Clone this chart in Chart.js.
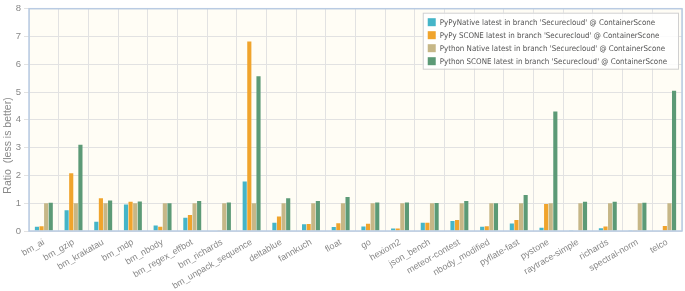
<!DOCTYPE html>
<html>
<head>
<meta charset="utf-8">
<script src="https://cdn.jsdelivr.net/npm/chart.js@4.4.1/dist/chart.umd.min.js"></script>
<style>
  html, body { margin: 0; padding: 0; background: #ffffff; }
  #wrap { width: 685px; height: 291px; }
</style>
</head>
<body>
<div id="wrap"><canvas id="canvas1" width="685" height="291"></canvas></div>
<script>
// benchmark names
const Benchmarks = ['bm_ai', 'bm_gzip', 'bm_krakatau', 'bm_mdp', 'bm_nbody', 'bm_regex_effbot',
    'bm_richards', 'bm_unpack_sequence', 'deltablue', 'fannkuch', 'float', 'go', 'hexiom2',
    'json_bench', 'meteor-contest', 'nbody_modified', 'pyflate-fast', 'pystone',
    'raytrace-simple', 'richards', 'spectral-norm', 'telco'];

const PyPyNative = [0.15, 0.75, 0.33, 0.95, 0.20, 0.48, 0.02, 1.78, 0.30, 0.24, 0.14, 0.16,
    0.09, 0.30, 0.36, 0.15, 0.27, 0.12, 0.01, 0.10, 0.01, 0.02];
const PyPyScone = [0.17, 2.08, 1.18, 1.05, 0.15, 0.58, 0.01, 6.82, 0.52, 0.25, 0.28, 0.26,
    0.09, 0.30, 0.40, 0.17, 0.40, 0.97, 0.02, 0.16, 0.03, 0.18];
const PythonNative = [1, 1, 1, 1, 1, 1, 1, 1, 1, 1, 1, 1, 1, 1, 1, 1, 1, 1, 1, 1, 1, 1];
const PythonScone = [1.02, 3.10, 1.10, 1.06, 1.00, 1.08, 1.03, 5.57, 1.18, 1.08, 1.22, 1.03,
    1.03, 1.01, 1.08, 1.00, 1.30, 4.30, 1.05, 1.05, 1.02, 5.05];

const SeriesNames = [
    "PyPyNative latest in branch 'Securecloud' @ ContainerScone",
    "PyPy SCONE latest in branch 'Securecloud' @ ContainerScone",
    "Python Native latest in branch 'Securecloud' @ ContainerScone",
    "Python SCONE latest in branch 'Securecloud' @ ContainerScone"
];
const SeriesColors = ['#45b5c8', '#f0a42c', '#c6b787', '#5c9a76'];

const YTicks = [0, 1, 2, 3, 4, 5, 6, 7, 8];
const YTitle = 'Ratio  (less is better)';

// background + border of the plot area, y title centred on the canvas
const plotFrame = {
    id: 'plotFrame',
    beforeDraw(chart) {
        const a = chart.chartArea, c = chart.ctx;
        c.save();
        c.fillStyle = '#fffdf5';
        c.fillRect(a.left, a.top, a.right - a.left, a.bottom - a.top);
        c.restore();
    },
    afterDraw(chart) {
        const a = chart.chartArea, c = chart.ctx;
        c.save();
        c.strokeStyle = '#b9cbe3';
        c.lineWidth = 1.5;
        c.strokeRect(a.left, a.top, a.right - a.left, a.bottom - a.top);
        c.translate(8, chart.height / 2);
        c.rotate(-Math.PI / 2);
        c.font = '10.5px "Liberation Sans", sans-serif';
        c.fillStyle = '#888';
        c.textAlign = 'center';
        c.textBaseline = 'middle';
        c.fillText(YTitle, 0, 0);
        c.restore();
    }
};

// legend boxed in the top right corner of the plot
const boxLegend = {
    id: 'boxLegend',
    afterDraw(chart) {
        const a = chart.chartArea, c = chart.ctx;
        const sets = chart.data.datasets;
        c.save();
        c.font = '7.9px "DejaVu Sans Condensed", sans-serif';
        let w = 0;
        sets.forEach(d => { w = Math.max(w, c.measureText(d.label).width); });
        const rowH = 13;
        const boxW = w + 28, boxH = sets.length * rowH + 4;
        const x0 = a.right - 4 - boxW, y0 = a.top + 4;
        c.fillStyle = 'rgba(255,255,255,0.85)';
        c.fillRect(x0, y0, boxW, boxH);
        c.strokeStyle = '#d0d0d0';
        c.lineWidth = 1;
        c.strokeRect(x0 + 0.5, y0 + 0.5, boxW, boxH);
        sets.forEach((d, i) => {
            const cy = y0 + 3 + rowH * i + rowH / 2;
            c.fillStyle = d.backgroundColor;
            c.fillRect(x0 + 5, cy - 4, 8, 8);
            c.fillStyle = '#555';
            c.textBaseline = 'middle';
            c.fillText(d.label, x0 + 17, cy + 0.5);
        });
        c.restore();
    }
};

const data = {
    labels: Benchmarks,
    datasets: [PyPyNative, PyPyScone, PythonNative, PythonScone].map((vals, i) => ({
        label: SeriesNames[i],
        data: vals,
        backgroundColor: SeriesColors[i],
        borderWidth: 0,
        categoryPercentage: 0.62,
        barPercentage: 0.9
    }))
};

const config = {
    type: 'bar',
    data: data,
    options: {
        responsive: false,
        animation: false,
        layout: { padding: { top: 7, right: 3, left: 0, bottom: 0 } },
        plugins: {
            legend: { display: false },
            tooltip: { enabled: false }
        },
        scales: {
            x: {
                afterFit(scale) { scale.height = 60; },
                grid: { color: '#e2e2e2', offset: true, drawTicks: false },
                border: { display: false },
                ticks: {
                    autoSkip: false,
                    minRotation: 30,
                    maxRotation: 30,
                    padding: 6,
                    color: '#888',
                    font: { family: 'Liberation Sans', size: 9 }
                }
            },
            y: {
                min: 0,
                max: 8,
                afterFit(scale) { scale.width = 29; },
                afterBuildTicks(axis) { axis.ticks = YTicks.map(v => ({ value: v })); },
                grid: { color: '#e2e2e2', drawTicks: true, tickLength: 5 },
                border: { display: false },
                ticks: {
                    padding: 3,
                    color: '#888',
                    font: { family: 'Liberation Sans', size: 9.5 }
                }
            }
        }
    },
    plugins: [plotFrame, boxLegend]
};

const chart = new Chart(document.getElementById('canvas1'), config);
</script>
</body>
</html>
